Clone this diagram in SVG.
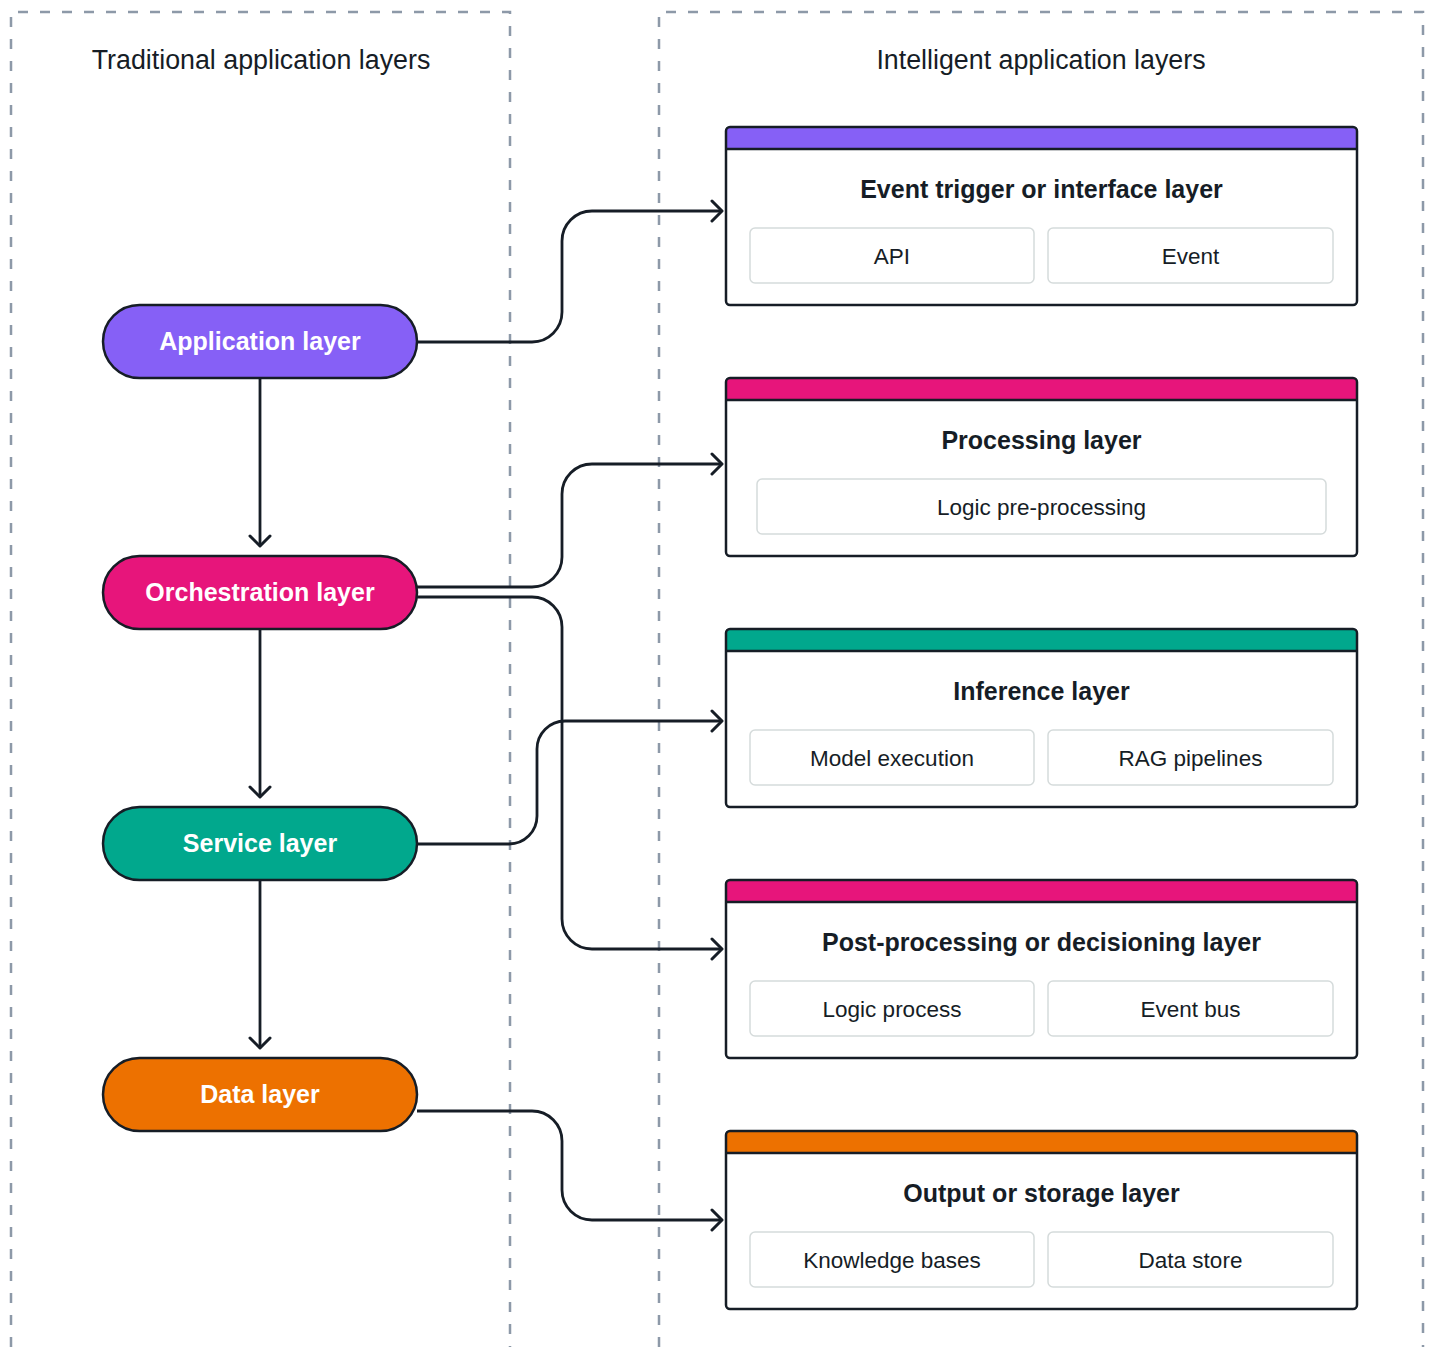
<svg xmlns="http://www.w3.org/2000/svg" width="1429" height="1347" viewBox="0 0 1429 1347">
<defs>
<style>
.zone{fill:none;stroke:#8D99A8;stroke-width:2.5;stroke-dasharray:10 12}
.head{font-family:"Liberation Sans",Arial,sans-serif;font-size:26.8px;fill:#161D26;text-anchor:middle}
.pill{stroke:#161D26;stroke-width:2.5}
.pilltxt{font-family:"Liberation Sans",Arial,sans-serif;font-size:25px;font-weight:bold;fill:#FFFFFF;text-anchor:middle}
.card{fill:none;stroke:#161D26;stroke-width:2.5}
.cardbody{fill:#FFFFFF}
.sep{stroke:#161D26;stroke-width:2.5}
.title{font-family:"Liberation Sans",Arial,sans-serif;font-size:25px;font-weight:bold;fill:#161D26;text-anchor:middle}
.sub{fill:#FFFFFF;stroke:#D5DBDB;stroke-width:1.5}
.subtxt{font-family:"Liberation Sans",Arial,sans-serif;font-size:22.5px;fill:#161D26;text-anchor:middle}
.conn{fill:none;stroke:#161D26;stroke-width:2.8;stroke-linejoin:round}
</style>
<marker id="arr" viewBox="0 0 14 24" refX="12" refY="12" markerWidth="14" markerHeight="24" markerUnits="userSpaceOnUse" orient="auto">
<path d="M2,2 L12,12 L2,22" fill="none" stroke="#161D26" stroke-width="3" stroke-linecap="round" stroke-linejoin="round"/>
</marker>
</defs>
<rect width="1429" height="1347" fill="#FFFFFF"/>

<g id="zones">
<path class="zone" d="M11,1347 V12 H510 V1347"/>
<path class="zone" d="M659,1347 V12 H1423 V1347"/>
<text class="head" x="261" y="69">Traditional application layers</text>
<text class="head" x="1041" y="69">Intelligent application layers</text>
</g>

<g id="connectors">
<path class="conn" d="M260,378 V546" marker-end="url(#arr)"/>
<path class="conn" d="M260,629 V797" marker-end="url(#arr)"/>
<path class="conn" d="M260,880 V1048" marker-end="url(#arr)"/>
<path class="conn" d="M417,342 H532 A30,30 0 0 0 562,312 V241 A30,30 0 0 1 592,211 H722" marker-end="url(#arr)"/>
<path class="conn" d="M417,587 H532 A30,30 0 0 0 562,557 V494 A30,30 0 0 1 592,464 H722" marker-end="url(#arr)"/>
<path class="conn" d="M417,597 H532 A30,30 0 0 1 562,627 V919 A30,30 0 0 0 592,949 H722" marker-end="url(#arr)"/>
<path class="conn" d="M417,844 H509 A28,28 0 0 0 537,816 V749 A28,28 0 0 1 565,721 H722" marker-end="url(#arr)"/>
<path class="conn" d="M417,1111 H532 A30,30 0 0 1 562,1141 V1190 A30,30 0 0 0 592,1220 H722" marker-end="url(#arr)"/>
</g>

<g id="application-layer">
<rect class="pill" x="103" y="305" width="314" height="73" rx="36.5" fill="#8660F6"/>
<text class="pilltxt" x="260" y="350">Application layer</text>
</g>
<g id="orchestration-layer">
<rect class="pill" x="103" y="556" width="314" height="73" rx="36.5" fill="#E7157B"/>
<text class="pilltxt" x="260" y="601">Orchestration layer</text>
</g>
<g id="service-layer">
<rect class="pill" x="103" y="807" width="314" height="73" rx="36.5" fill="#01A88D"/>
<text class="pilltxt" x="260" y="852">Service layer</text>
</g>
<g id="data-layer">
<rect class="pill" x="103" y="1058" width="314" height="73" rx="36.5" fill="#ED7100"/>
<text class="pilltxt" x="260" y="1103">Data layer</text>
</g>

<g id="event-trigger-layer">
<rect class="cardbody" x="726" y="127" width="631" height="178" rx="4"/>
<path d="M726,149 V131 A4,4 0 0 1 730,127 H1353 A4,4 0 0 1 1357,131 V149 Z" fill="#8660F6"/>
<line class="sep" x1="726" y1="149" x2="1357" y2="149"/>
<rect class="card" x="726" y="127" width="631" height="178" rx="4"/>
<text class="title" x="1041.5" y="198">Event trigger or interface layer</text>
<rect class="sub" x="750" y="228" width="284" height="55" rx="5"/>
<text class="subtxt" x="892" y="264">API</text>
<rect class="sub" x="1048" y="228" width="285" height="55" rx="5"/>
<text class="subtxt" x="1190.5" y="264">Event</text>
</g>

<g id="processing-layer">
<rect class="cardbody" x="726" y="378" width="631" height="178" rx="4"/>
<path d="M726,400 V382 A4,4 0 0 1 730,378 H1353 A4,4 0 0 1 1357,382 V400 Z" fill="#E7157B"/>
<line class="sep" x1="726" y1="400" x2="1357" y2="400"/>
<rect class="card" x="726" y="378" width="631" height="178" rx="4"/>
<text class="title" x="1041.5" y="449">Processing layer</text>
<rect class="sub" x="757" y="479" width="569" height="55" rx="5"/>
<text class="subtxt" x="1041.5" y="515">Logic pre-processing</text>
</g>

<g id="inference-layer">
<rect class="cardbody" x="726" y="629" width="631" height="178" rx="4"/>
<path d="M726,651 V633 A4,4 0 0 1 730,629 H1353 A4,4 0 0 1 1357,633 V651 Z" fill="#01A88D"/>
<line class="sep" x1="726" y1="651" x2="1357" y2="651"/>
<rect class="card" x="726" y="629" width="631" height="178" rx="4"/>
<text class="title" x="1041.5" y="700">Inference layer</text>
<rect class="sub" x="750" y="730" width="284" height="55" rx="5"/>
<text class="subtxt" x="892" y="766">Model execution</text>
<rect class="sub" x="1048" y="730" width="285" height="55" rx="5"/>
<text class="subtxt" x="1190.5" y="766">RAG pipelines</text>
</g>

<g id="post-processing-layer">
<rect class="cardbody" x="726" y="880" width="631" height="178" rx="4"/>
<path d="M726,902 V884 A4,4 0 0 1 730,880 H1353 A4,4 0 0 1 1357,884 V902 Z" fill="#E7157B"/>
<line class="sep" x1="726" y1="902" x2="1357" y2="902"/>
<rect class="card" x="726" y="880" width="631" height="178" rx="4"/>
<text class="title" x="1041.5" y="951">Post-processing or decisioning layer</text>
<rect class="sub" x="750" y="981" width="284" height="55" rx="5"/>
<text class="subtxt" x="892" y="1017">Logic process</text>
<rect class="sub" x="1048" y="981" width="285" height="55" rx="5"/>
<text class="subtxt" x="1190.5" y="1017">Event bus</text>
</g>

<g id="output-storage-layer">
<rect class="cardbody" x="726" y="1131" width="631" height="178" rx="4"/>
<path d="M726,1153 V1135 A4,4 0 0 1 730,1131 H1353 A4,4 0 0 1 1357,1135 V1153 Z" fill="#ED7100"/>
<line class="sep" x1="726" y1="1153" x2="1357" y2="1153"/>
<rect class="card" x="726" y="1131" width="631" height="178" rx="4"/>
<text class="title" x="1041.5" y="1202">Output or storage layer</text>
<rect class="sub" x="750" y="1232" width="284" height="55" rx="5"/>
<text class="subtxt" x="892" y="1268">Knowledge bases</text>
<rect class="sub" x="1048" y="1232" width="285" height="55" rx="5"/>
<text class="subtxt" x="1190.5" y="1268">Data store</text>
</g>
</svg>
